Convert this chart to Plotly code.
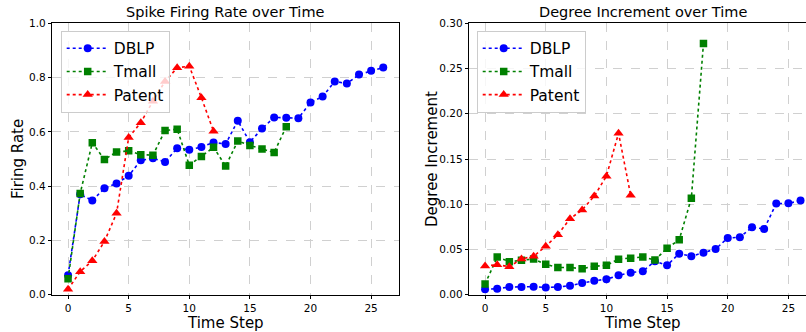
import plotly.graph_objects as go

steps_dblp = list(range(27))
steps_tmall = list(range(19))
steps_patent = list(range(13))

rate_dblp = [0.072, 0.37, 0.347, 0.392, 0.41, 0.438, 0.495, 0.503, 0.489, 0.54, 0.534, 0.544,
             0.561, 0.555, 0.641, 0.562, 0.612, 0.653, 0.652, 0.65, 0.708, 0.73, 0.786, 0.778,
             0.811, 0.825, 0.837]
rate_tmall = [0.059, 0.373, 0.56, 0.498, 0.526, 0.53, 0.516, 0.514, 0.605, 0.61, 0.477, 0.509,
              0.543, 0.474, 0.566, 0.55, 0.537, 0.524, 0.619]
rate_patent = [0.02, 0.085, 0.125, 0.196, 0.30, 0.579, 0.634, 0.713, 0.786, 0.836, 0.842,
               0.726, 0.602]

deg_dblp = [0.006, 0.0066, 0.0085, 0.0085, 0.0089, 0.008, 0.0085, 0.010, 0.013, 0.0155, 0.017,
            0.0214, 0.0244, 0.026, 0.037, 0.0325, 0.0454, 0.0425, 0.0465, 0.0505, 0.0627,
            0.0635, 0.0745, 0.0727, 0.1007, 0.101, 0.104]
deg_tmall = [0.0118, 0.0417, 0.0365, 0.038, 0.0395, 0.0336, 0.030, 0.030, 0.0288, 0.0314,
             0.0325, 0.0393, 0.0402, 0.0417, 0.0384, 0.0513, 0.0608, 0.1066, 0.2777]
deg_patent = [0.0317, 0.0332, 0.031, 0.0395, 0.0425, 0.0535, 0.0664, 0.084, 0.0937, 0.109,
              0.131, 0.1785, 0.110]

series_names = ["DBLP", "Tmall", "Patent"]
colors = ["#0000ff", "#008000", "#ff0000"]
symbols = ["circle", "square", "triangle-up"]
msizes = [8, 7.5, 9]

fig = go.Figure()

left = [(steps_dblp, rate_dblp), (steps_tmall, rate_tmall), (steps_patent, rate_patent)]
right = [(steps_dblp, deg_dblp), (steps_tmall, deg_tmall), (steps_patent, deg_patent)]

for i, (xs, ys) in enumerate(left):
    fig.add_trace(go.Scatter(x=xs, y=ys, mode="lines+markers", name=series_names[i],
                             line=dict(color=colors[i], dash="dot", width=1.6),
                             marker=dict(symbol=symbols[i], size=msizes[i], color=colors[i]),
                             xaxis="x", yaxis="y", legend="legend"))
for i, (xs, ys) in enumerate(right):
    fig.add_trace(go.Scatter(x=xs, y=ys, mode="lines+markers", name=series_names[i],
                             line=dict(color=colors[i], dash="dot", width=1.6),
                             marker=dict(symbol=symbols[i], size=msizes[i], color=colors[i]),
                             xaxis="x2", yaxis="y2", legend="legend2"))

W, H = 806, 332
ydom = [(H - 294.7) / H, (H - 23.3) / H]
tickfont = dict(family="DejaVu Sans", size=10.5, color="#000000")
axis_common = dict(showline=True, linecolor="#000000", linewidth=1, ticks="outside",
                   ticklen=3.5, tickcolor="#000000", tickfont=tickfont, showgrid=True,
                   gridcolor="#d0d0d0", griddash="dash", gridwidth=0.8, zeroline=False,
                   automargin=False)
label_font = dict(family="DejaVu Sans", size=15, color="#000000")
title_font = dict(family="DejaVu Sans", size=14.5, color="#000000")
legend_font = dict(family="DejaVu Sans", size=15.5, color="#000000")


def ann(text, x, y, font, angle=0):
    return dict(text=text, x=x / W, y=(H - y) / H, xref="paper", yref="paper", showarrow=False,
                xanchor="center", yanchor="middle", font=font, textangle=angle, borderpad=0)


fig.update_layout(
    width=W, height=H,
    margin=dict(l=0, r=0, t=0, b=0, autoexpand=False),
    paper_bgcolor="white", plot_bgcolor="white",
    font=dict(family="DejaVu Sans", color="#000000"),
    xaxis=dict(domain=[52.3 / W, 399 / W], range=[-1.3, 27.3], tickvals=[0, 5, 10, 15, 20, 25],
               mirror=True, anchor="y", **axis_common),
    yaxis=dict(domain=ydom, range=[0, 1.0], tickvals=[0, 0.2, 0.4, 0.6, 0.8, 1.0],
               tickformat=".1f", mirror=True, anchor="x", **axis_common),
    xaxis2=dict(domain=[469.3 / W, 1.0], range=[-1.3, 26.45], tickvals=[0, 5, 10, 15, 20, 25],
                mirror=True, anchor="y2", **axis_common),
    yaxis2=dict(domain=ydom, range=[0, 0.30], tickvals=[0, 0.05, 0.10, 0.15, 0.20, 0.25, 0.30],
                tickformat=".2f", mirror=False, anchor="x2", **axis_common),
    legend=dict(x=60.7 / W, y=(H - 30.7) / H, xanchor="left", yanchor="top",
                bgcolor="rgba(255,255,255,0.8)", bordercolor="#cccccc", borderwidth=1,
                font=legend_font, tracegroupgap=0, itemwidth=42),
    legend2=dict(x=476.7 / W, y=(H - 30.7) / H, xanchor="left", yanchor="top",
                 bgcolor="rgba(255,255,255,0.8)", bordercolor="#cccccc", borderwidth=1,
                 font=legend_font, tracegroupgap=0, itemwidth=42),
    annotations=[
        ann("Spike Firing Rate over Time", (52.3 + 399) / 2, 12, title_font),
        ann("Degree Increment over Time", (469.3 + 816) / 2, 12, title_font),
        ann("Time Step", (52.3 + 399) / 2, 322.5, label_font),
        ann("Time Step", (469.3 + 816) / 2, 322.5, label_font),
        ann("Firing Rate", 18, 159, label_font, -90),
        ann("Degree Increment", 432, 159, label_font, -90),
    ],
)

fig.write_html("out.html", config={"displayModeBar": False},
               post_script="document.body.style.margin='0px';document.body.style.overflow='hidden';")
